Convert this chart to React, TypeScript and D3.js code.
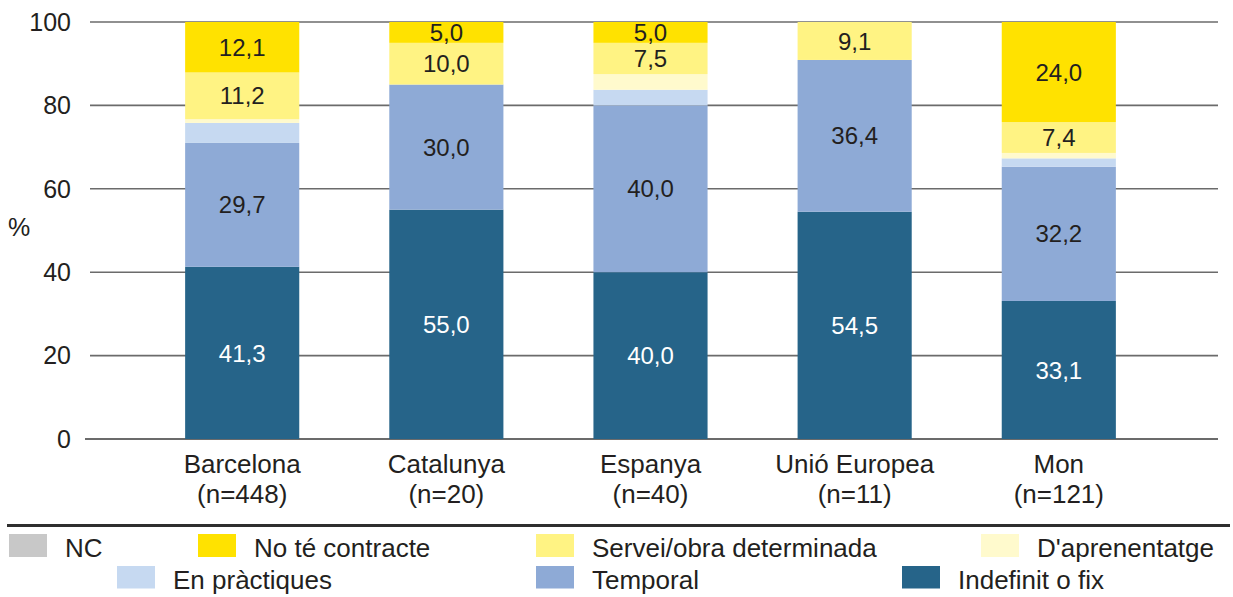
import React from "react";
import * as d3 from "d3";

const categories = ["Barcelona", "Catalunya", "Espanya", "Unió Europea", "Mon"];
const sampleSizes = ["(n=448)", "(n=20)", "(n=40)", "(n=11)", "(n=121)"];

const indefinit = [41.3, 55.0, 40.0, 54.5, 33.1];
const temporal = [29.7, 30.0, 40.0, 36.4, 32.2];
const practiques = [4.8, 0, 3.75, 0, 2.0];
const aprenentatge = [0.9, 0, 3.75, 0, 1.3];
const servei = [11.2, 10.0, 7.5, 9.1, 7.4];
const noContracte = [12.1, 5.0, 5.0, 0, 24.0];
const nc = [0, 0, 0, 0, 0];

const yTicks = [0, 20, 40, 60, 80, 100];

type Series = { key: string; label: string; values: number[]; color: string; showLabel: boolean; textColor: string };

const series: Series[] = [
  { key: "indefinit", label: "Indefinit o fix", values: indefinit, color: "#266489", showLabel: true, textColor: "#ffffff" },
  { key: "temporal", label: "Temporal", values: temporal, color: "#8eaad6", showLabel: true, textColor: "#231f20" },
  { key: "practiques", label: "En pràctiques", values: practiques, color: "#c6d9f1", showLabel: false, textColor: "#231f20" },
  { key: "aprenentatge", label: "D'aprenentatge", values: aprenentatge, color: "#fffacd", showLabel: false, textColor: "#231f20" },
  { key: "servei", label: "Servei/obra determinada", values: servei, color: "#fff383", showLabel: true, textColor: "#231f20" },
  { key: "nocontracte", label: "No té contracte", values: noContracte, color: "#ffe200", showLabel: true, textColor: "#231f20" },
  { key: "nc", label: "NC", values: nc, color: "#c8c8c8", showLabel: false, textColor: "#231f20" },
];

// legend layout order (rows)
const legendRow1 = ["nc", "nocontracte", "servei", "aprenentatge"];
const legendRow2 = ["practiques", "temporal", "indefinit"];
const legendRow1X = [9, 198, 536, 981];
const legendRow2X = [117, 536, 902];

const FONT = "'Liberation Sans', Arial, sans-serif";
const TEXT = "#231f20";

export default function App() {
  const width = 1233;
  const height = 597;

  const x = d3
    .scaleBand<string>()
    .domain(categories)
    .range([90, 1211])
    .paddingInner(0.441)
    .paddingOuter(0.466);
  const y = d3.scaleLinear().domain([0, 100]).range([439, 22]);

  const rows = categories.map((c, i) => {
    const r: any = { cat: c };
    series.forEach((s) => (r[s.key] = s.values[i]));
    return r;
  });
  const stacked = d3.stack<any>().keys(series.map((s) => s.key))(rows);

  const fmt = (v: number) => d3.format(".1f")(v).replace(".", ",");
  const byKey = (k: string) => series.find((s) => s.key === k)!;

  return (
    <svg width={width} height={height} style={{ position: "absolute", left: 0, top: 0 }} fontFamily={FONT}>
      <rect width={width} height={height} fill="#ffffff" />
      {/* gridlines */}
      {yTicks.map((t) => (
        <line
          key={t}
          x1={t === 0 ? 85 : 90}
          x2={1218}
          y1={y(t)}
          y2={y(t)}
          stroke="#6b6b6b"
          strokeWidth={t === 0 ? 2 : 1.6}
        />
      ))}
      {yTicks.map((t) => (
        <text key={"l" + t} x={71} y={y(t)} dy="0.35em" textAnchor="end" fontSize={25} fill={TEXT}>
          {t}
        </text>
      ))}
      <text x={8} y={227} dy="0.35em" fontSize={25} fill={TEXT}>
        %
      </text>

      {/* bars */}
      {stacked.map((layer, li) => {
        const s = series[li];
        return (
          <g key={s.key}>
            {layer.map((d, i) => {
              const h = y(d[0]) - y(d[1]);
              if (h <= 0) return null;
              return (
                <rect
                  key={i}
                  x={x(categories[i])}
                  width={x.bandwidth()}
                  y={y(d[1])}
                  height={h}
                  fill={s.color}
                />
              );
            })}
          </g>
        );
      })}
      {/* value labels */}
      {stacked.map((layer, li) => {
        const s = series[li];
        if (!s.showLabel) return null;
        return (
          <g key={"t" + s.key}>
            {layer.map((d, i) => {
              const v = s.values[i];
              if (!v) return null;
              return (
                <text
                  key={i}
                  x={(x(categories[i]) as number) + x.bandwidth() / 2}
                  y={(y(d[0]) + y(d[1])) / 2}
                  dy="0.36em"
                  textAnchor="middle"
                  fontSize={24}
                  fill={s.textColor}
                >
                  {fmt(v)}
                </text>
              );
            })}
          </g>
        );
      })}

      {/* category labels */}
      {categories.map((c, i) => {
        const cx = (x(c) as number) + x.bandwidth() / 2;
        return (
          <g key={"c" + c}>
            <text x={cx} y={473} textAnchor="middle" fontSize={26} fill={TEXT}>
              {c}
            </text>
            <text x={cx} y={503} textAnchor="middle" fontSize={26} fill={TEXT}>
              {sampleSizes[i]}
            </text>
          </g>
        );
      })}

      {/* legend */}
      <line x1={7} x2={1230} y1={525.5} y2={525.5} stroke="#2e2e2e" strokeWidth={3} />
      {legendRow1.map((k, i) => {
        const s = byKey(k);
        return (
          <g key={"lg1" + k}>
            <rect x={legendRow1X[i]} y={534} width={38} height={23} fill={s.color} />
            <text x={legendRow1X[i] + 56} y={556.5} fontSize={26} fill={TEXT}>
              {s.label}
            </text>
          </g>
        );
      })}
      {legendRow2.map((k, i) => {
        const s = byKey(k);
        return (
          <g key={"lg2" + k}>
            <rect x={legendRow2X[i]} y={566} width={38} height={22.5} fill={s.color} />
            <text x={legendRow2X[i] + 56} y={588.5} fontSize={26} fill={TEXT}>
              {s.label}
            </text>
          </g>
        );
      })}
    </svg>
  );
}
